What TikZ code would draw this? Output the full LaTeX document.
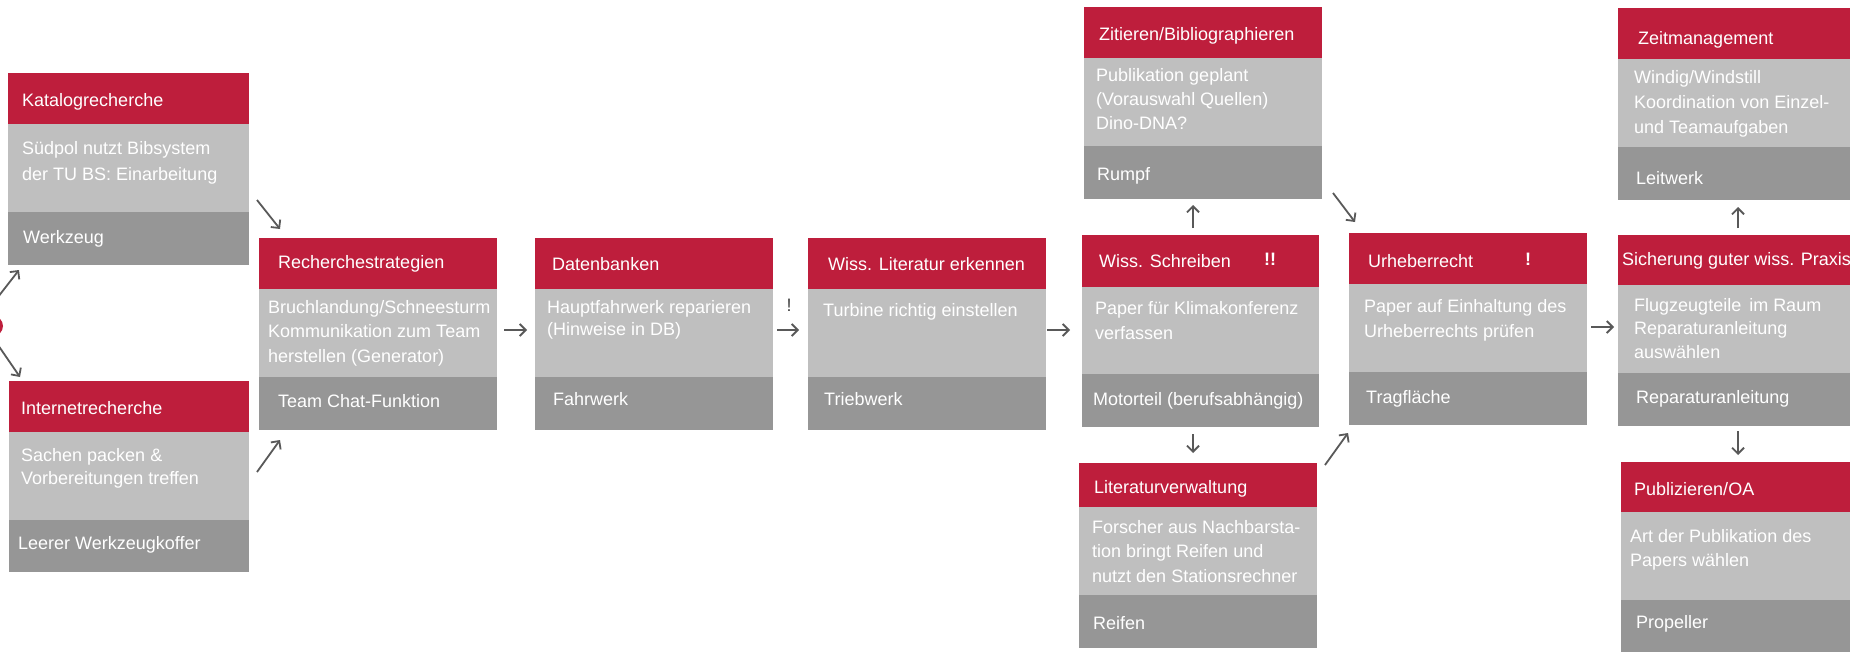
\documentclass[tikz,border=0pt]{standalone}
\usepackage{fontspec}
\setmainfont{Liberation Sans}
\usetikzlibrary{arrows.meta,calc}
\definecolor{tured}{HTML}{BE1E3C}
\definecolor{tulight}{HTML}{BFBFBF}
\definecolor{tudark}{HTML}{969696}
\definecolor{arrgray}{HTML}{595959}
\definecolor{markgray}{HTML}{404040}
\tikzset{
  bandbox/.style={anchor=north west, inner sep=0pt, outer sep=0pt, minimum width=#1},
  hdband/.style={fill=tured},
  bdband/.style={fill=tulight},
  ftband/.style={fill=tudark},
  linetext/.style={anchor=west, inner sep=0pt, text=white, font=\fontsize{18}{21}\selectfont},
  bodytext/.style={anchor=north west, inner sep=0pt, text=white, align=left, font=\fontsize{18}{#1}\selectfont},
  conn/.style={draw=arrgray, line width=1.8pt, -{Straight Barb[length=6pt,width=12pt]}},
  bang/.style={anchor=center, inner sep=0pt, font=\fontsize{18}{21}\selectfont\bfseries}
}
\newcommand\tubox[7]{%
  \node[bandbox=#4pt, hdband, minimum height=#5pt] (#1-h) at (#2,#3) {};
  \node[bandbox=#4pt, bdband, minimum height=#6pt] (#1-b) at (#1-h.south west) {};
  \node[bandbox=#4pt, ftband, minimum height=#7pt] (#1-f) at (#1-b.south west) {};
}
\begin{document}
\begin{tikzpicture}[x=1pt, y=-1pt]
\useasboundingbox (0,0) rectangle (1850,651);
\fill[white] (0,0) rectangle (1850,651);

% start circle
\node[circle, fill=tured, minimum size=20pt, inner sep=0pt] (start) at (-7,326) {};

% ---------- boxes ----------
\tubox{kat}{8}{73}{241}{51}{88}{53}
\node[linetext] (kat-ht) at (22,102) {Katalogrecherche};
\node[bodytext=26] (kat-bt) at (22,141) {Südpol nutzt Bibsystem\\der TU BS: Einarbeitung};
\node[linetext] (kat-ft) at (23,239) {Werkzeug};

\tubox{int}{9}{381}{240}{51}{88}{52}
\node[linetext] (int-ht) at (21,408) {Internetrecherche};
\node[bodytext=23] (int-bt) at (21,448) {Sachen packen \&\\Vorbereitungen treffen};
\node[linetext] (int-ft) at (18,545) {Leerer Werkzeugkoffer};

\tubox{rec}{259}{238}{238}{51}{88}{53}
\node[linetext] (rec-ht) at (278,264) {Recherchestrategien};
\node[bodytext=24.5] (rec-bt) at (268,300) {Bruchlandung/Schneesturm\\Kommunikation zum Team\\herstellen (Generator)};
\node[linetext] (rec-ft) at (278,401) {Team Chat-Funktion};

\tubox{dat}{535}{238}{238}{51}{88}{53}
\node[linetext] (dat-ht) at (552,264) {Datenbanken};
\node[bodytext=22.5] (dat-bt) at (547,300) {Hauptfahrwerk reparieren\\(Hinweise in DB)};
\node[linetext] (dat-ft) at (553,399) {Fahrwerk};

\tubox{lit}{808}{238}{238}{51}{88}{53}
\node[linetext] (lit-ht) at (828,264) {Wiss. Literatur erkennen};
\node[bodytext=21] (lit-bt) at (823,303) {Turbine richtig einstellen};
\node[linetext] (lit-ft) at (824,399) {Triebwerk};

\tubox{zit}{1084}{7}{238}{51}{88}{53}
\node[linetext] (zit-ht) at (1099,36) {Zitieren/Bibliographieren};
\node[bodytext=24] (zit-bt) at (1096,68) {Publikation geplant\\(Vorauswahl Quellen)\\Dino-DNA?};
\node[linetext] (zit-ft) at (1097,176) {Rumpf};

\tubox{wsc}{1082}{235}{237}{52}{87}{53}
\node[linetext] (wsc-ht) at (1099,261) {Wiss. Schreiben};
\node[bang, text=white] (wsc-bang) at (1270,259) {!!};
\node[bodytext=25.5] (wsc-bt) at (1095,301) {Paper für Klimakonferenz\\verfassen};
\node[linetext] (wsc-ft) at (1093,401) {Motorteil (berufsabhängig)};

\tubox{lv}{1079}{463}{238}{44}{88}{53}
\node[linetext] (lv-ht) at (1094,489) {Literaturverwaltung};
\node[bodytext=24.5] (lv-bt) at (1092,520) {Forscher aus Nachbarsta-\\tion bringt Reifen und\\nutzt den Stationsrechner};
\node[linetext] (lv-ft) at (1093,623) {Reifen};

\tubox{urh}{1349}{233}{238}{51}{88}{53}
\node[linetext] (urh-ht) at (1368,261) {Urheberrecht};
\node[bang, text=white] (urh-bang) at (1528,259) {!};
\node[bodytext=25] (urh-bt) at (1364,299) {Paper auf Einhaltung des\\Urheberrechts prüfen};
\node[linetext] (urh-ft) at (1366,399) {Tragfläche};

\tubox{zeit}{1618}{8}{238}{51}{88}{53}
\node[linetext] (zeit-ht) at (1638,40) {Zeitmanagement};
\node[bodytext=25] (zeit-bt) at (1634,70) {Windig/Windstill\\Koordination von Einzel-\\und Teamaufgaben};
\node[linetext] (zeit-ft) at (1636,178) {Leitwerk};

\tubox{sich}{1618}{235}{238}{50}{88}{53}
\node[linetext] (sich-ht) at (1622,261) {Sicherung guter wiss. Praxis};
\node[bodytext=23.5] (sich-bt) at (1634,298) {Flugzeugteile\, im Raum\\Reparaturanleitung\\auswählen};
\node[linetext] (sich-ft) at (1636,399) {Reparaturanleitung};

\tubox{pub}{1621}{462}{238}{50}{88}{53}
\node[linetext] (pub-ht) at (1634,489) {Publizieren/OA};
\node[bodytext=24] (pub-bt) at (1630,529) {Art der Publikation des\\Papers wählen};
\node[linetext] (pub-ft) at (1636,624) {Propeller};

% mark between Datenbanken and Literatur
\node[bang, text=markgray, font=\fontsize{18}{21}\selectfont] (datlit-bang) at (789,305) {!};

% ---------- connector end points ----------
\coordinate (s-k1) at (-2,297);  \coordinate (s-k2) at (19,270);
\coordinate (s-i1) at (-2,345);  \coordinate (s-i2) at (20,377);
\coordinate (k-r1) at (257,200); \coordinate (k-r2) at (280,229);
\coordinate (i-r1) at (257,472); \coordinate (i-r2) at (280,440);
\coordinate (r-d1) at (504,330); \coordinate (r-d2) at (527,330);
\coordinate (d-l1) at (777,330); \coordinate (d-l2) at (799,330);
\coordinate (l-w1) at (1047,330); \coordinate (l-w2) at (1070,330);
\coordinate (w-z1) at (1193,228); \coordinate (w-z2) at (1193,205);
\coordinate (w-v1) at (1193,434); \coordinate (w-v2) at (1193,453);
\coordinate (z-u1) at (1333,193); \coordinate (z-u2) at (1355,222);
\coordinate (v-u1) at (1325,465); \coordinate (v-u2) at (1348,433);
\coordinate (u-s1) at (1591,327); \coordinate (u-s2) at (1614,327);
\coordinate (s-t1) at (1738,228); \coordinate (s-t2) at (1738,207);
\coordinate (s-p1) at (1738,431); \coordinate (s-p2) at (1738,455);

\draw[conn] (s-k1) -- (s-k2);
\draw[conn] (s-i1) -- (s-i2);
\draw[conn] (k-r1) -- (k-r2);
\draw[conn] (i-r1) -- (i-r2);
\draw[conn] (r-d1) -- (r-d2);
\draw[conn] (d-l1) -- (d-l2);
\draw[conn] (l-w1) -- (l-w2);
\draw[conn] (w-z1) -- (w-z2);
\draw[conn] (w-v1) -- (w-v2);
\draw[conn] (z-u1) -- (z-u2);
\draw[conn] (v-u1) -- (v-u2);
\draw[conn] (u-s1) -- (u-s2);
\draw[conn] (s-t1) -- (s-t2);
\draw[conn] (s-p1) -- (s-p2);
\end{tikzpicture}
\end{document}
